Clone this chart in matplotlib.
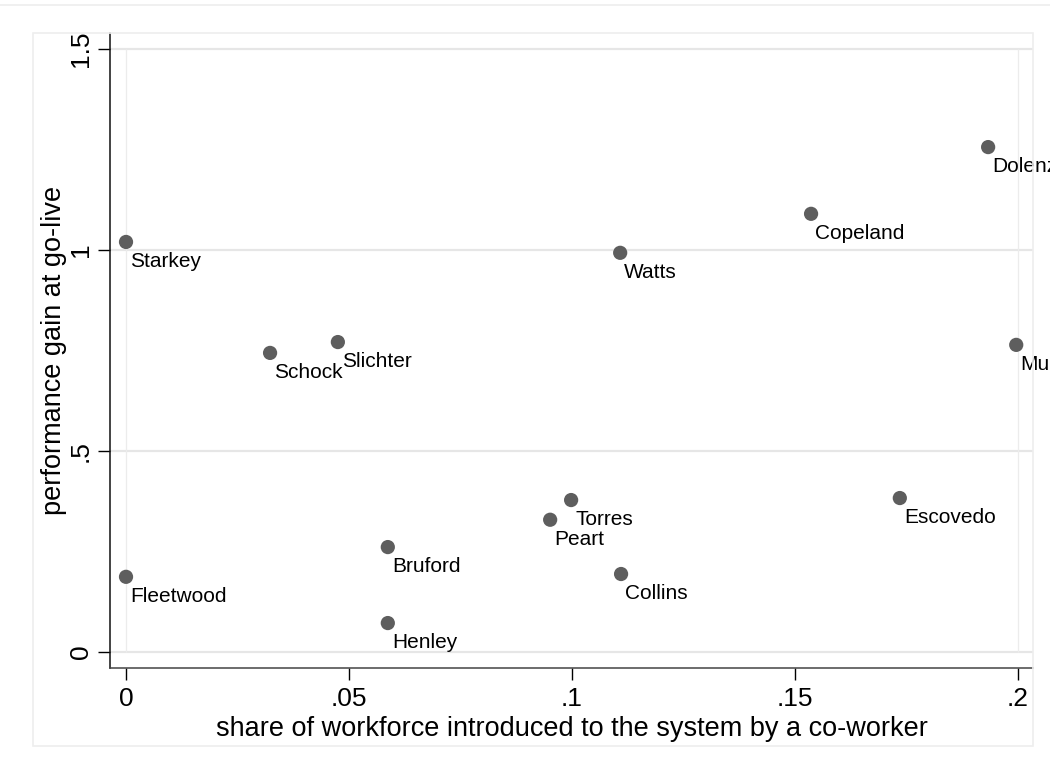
import matplotlib
matplotlib.use("Agg")
import matplotlib.pyplot as plt
from matplotlib.lines import Line2D
from matplotlib.patches import Rectangle

plt.rcParams['font.family'] = ['Liberation Sans', 'DejaVu Sans']

# Co-worker introduction share vs. performance gain, one point per site lead
names = ["Starkey", "Fleetwood", "Schock", "Slichter", "Bruford", "Henley",
         "Peart", "Torres", "Watts", "Collins", "Copeland", "Escovedo",
         "Dolenz", "Mulligan"]
share = [0.0, 0.0, 0.0323, 0.0475, 0.0587, 0.0587,
         0.0951, 0.0998, 0.1108, 0.1110, 0.1536, 0.1735,
         0.1933, 0.1996]
gain = [1.020, 0.187, 0.744, 0.771, 0.261, 0.072,
        0.329, 0.378, 0.993, 0.194, 1.090, 0.383,
        1.256, 0.764]

xticks = [0, 0.05, 0.1, 0.15, 0.2]
xticklabels = ["0", ".05", ".1", ".15", ".2"]
yticks = [0, 0.5, 1, 1.5]
yticklabels = ["0", ".5", "1", "1.5"]

W, H = 1050, 770
fig = plt.figure(figsize=(W / 100, H / 100), dpi=100)
fig.patch.set_facecolor("white")

# faint frame of the graph region and rule across the top
fig.add_artist(Rectangle((33 / W, 1 - 746 / H), (1033 - 33) / W, (746 - 33) / H,
                         transform=fig.transFigure, fill=False,
                         edgecolor="#eeeeee", linewidth=1.2))
fig.add_artist(Line2D([0, 1], [1 - 5 / H, 1 - 5 / H], transform=fig.transFigure,
                      color="#eeeeee", linewidth=1.2))

ax = fig.add_axes([110 / W, 1 - 668 / H, (1033 - 110) / W, (668 - 33) / H])
ax.set_xlim(-0.00359, 0.20336)
ax.set_ylim(-0.0398, 1.5398)

for yv in yticks:
    ax.axhline(yv, color="#e6e6e6", linewidth=1.6, zorder=0)
ax.vlines([xticks[0], xticks[-1]], yticks[0], yticks[-1], color="#ececec",
          linewidth=0.9, zorder=0)

ax.scatter(share, gain, s=105, color="#5e5e5e", edgecolors="none", zorder=3)
for n, xv, yv in zip(names, share, gain):
    ax.annotate(n, (xv, yv), xytext=(3, -18), textcoords="offset points",
                ha="left", va="baseline", fontsize=15, color="black",
                annotation_clip=False, clip_on=False, zorder=4)

ax.set_xticks(xticks)
ax.set_xticklabels(xticklabels)
ax.set_yticks(yticks)
ax.set_yticklabels(yticklabels, rotation=90, va="center")

ax.tick_params(axis="both", direction="out", length=8.5, width=1.0,
               labelsize=19, colors="black")
ax.tick_params(axis="x", pad=5.5)
ax.tick_params(axis="y", pad=4)

for side in ("top", "right"):
    ax.spines[side].set_visible(False)
ax.spines["left"].set_color("#111111")
ax.spines["bottom"].set_color("#444444")
ax.spines["left"].set_linewidth(1.1)
ax.spines["bottom"].set_linewidth(1.1)

ax.set_xlabel("share of workforce introduced to the system by a co-worker",
              fontsize=19.5, labelpad=3)
ax.set_ylabel("performance gain at go-live", fontsize=19.5, labelpad=1)

fig.savefig("out.png", dpi=100, facecolor="white")
